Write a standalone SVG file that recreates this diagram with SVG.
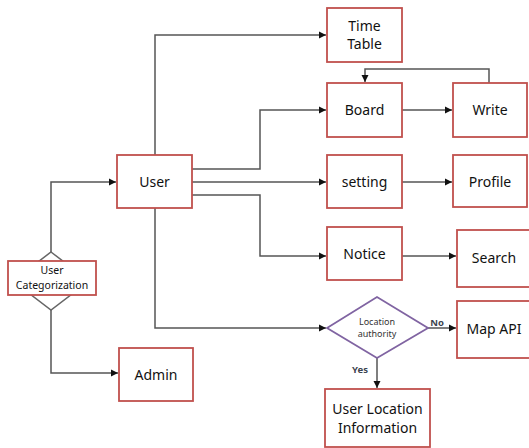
<svg xmlns="http://www.w3.org/2000/svg" width="529" height="448" viewBox="0 0 529 448">
<defs>
<style>
.box{fill:#fff;stroke:#c0504d;stroke-width:1.8}
.t{font-family:"Noto Sans","Open Sans",sans-serif;font-size:14px;fill:#111;text-anchor:middle}
.ts{font-family:"Noto Sans","Open Sans",sans-serif;font-size:10.5px;fill:#111;text-anchor:middle}
.tx{font-family:"Noto Sans","Open Sans",sans-serif;font-size:9px;fill:#333;text-anchor:middle}
.lbl{font-family:"Noto Sans","Open Sans",sans-serif;font-size:9.5px;font-weight:bold;fill:#3c4450;text-anchor:middle}
.c{fill:none;stroke:#555;stroke-width:1.5}
</style>
<marker id="a" markerWidth="8" markerHeight="8" refX="7" refY="4" orient="auto" markerUnits="userSpaceOnUse">
<path d="M0,0.5 L7,4 L0,7.5 Z" fill="#111"/>
</marker>
</defs>
<g id="connectors">
<path class="c" d="M51,252 V182 H116" marker-end="url(#a)"/>
<path class="c" d="M51,310 V373 H118" marker-end="url(#a)"/>
<path class="c" d="M155,155 V35 H326" marker-end="url(#a)"/>
<path class="c" d="M192,169 H260 V110 H326" marker-end="url(#a)"/>
<path class="c" d="M192,182 H326" marker-end="url(#a)"/>
<path class="c" d="M192,195 H260 V256 H326" marker-end="url(#a)"/>
<path class="c" d="M155,208 V328 H326" marker-end="url(#a)"/>
<path class="c" d="M402,110 H452" marker-end="url(#a)"/>
<path class="c" d="M489,83 V69 H365 V82" marker-end="url(#a)"/>
<path class="c" d="M402,182 H452" marker-end="url(#a)"/>
<path class="c" d="M402,256 H456" marker-end="url(#a)"/>
<path class="c" d="M428,328 H456" marker-end="url(#a)"/>
<path class="c" d="M377,358 V388" marker-end="url(#a)"/>
<text class="lbl" x="437" y="326">No</text>
<text class="lbl" x="360" y="373">Yes</text>
</g>
<g id="user-categorization">
<path d="M51,252 L89,281 L51,310 L13,281 Z" fill="#fff" stroke="#666" stroke-width="1.5"/>
<rect class="box" x="8" y="261" width="88" height="34"/>
<text class="ts" x="52" y="274">User</text>
<text class="ts" x="52" y="289">Categorization</text>
</g>
<g id="user"><rect class="box" x="117" y="155" width="75" height="53"/><text class="t" x="154.5" y="187">User</text></g>
<g id="admin"><rect class="box" x="119" y="348" width="74" height="53"/><text class="t" x="156" y="380">Admin</text></g>
<g id="timetable"><rect class="box" x="327" y="8" width="75" height="54"/><text class="t" x="364.5" y="31">Time</text><text class="t" x="364.5" y="49">Table</text></g>
<g id="board"><rect class="box" x="327" y="83" width="75" height="54"/><text class="t" x="364.5" y="115">Board</text></g>
<g id="write"><rect class="box" x="453" y="83" width="74" height="54"/><text class="t" x="490" y="115">Write</text></g>
<g id="setting"><rect class="box" x="327" y="155" width="75" height="53"/><text class="t" x="364.5" y="187">setting</text></g>
<g id="profile"><rect class="box" x="453" y="155" width="74" height="52"/><text class="t" x="490" y="187">Profile</text></g>
<g id="notice"><rect class="box" x="327" y="227" width="75" height="53"/><text class="t" x="364.5" y="259">Notice</text></g>
<g id="search"><rect class="box" x="457" y="230" width="76" height="57"/><text class="t" x="494" y="263">Search</text></g>
<g id="location-authority"><path d="M327,328 L377,297 L428,328 L377,358 Z" fill="#fff" stroke="#8064a2" stroke-width="1.8"/><text class="tx" x="377" y="325">Location</text><text class="tx" x="377" y="337">authority</text></g>
<g id="mapapi"><rect class="box" x="457" y="301" width="76" height="57"/><text class="t" x="494" y="334">Map API</text></g>
<g id="userlocation"><rect class="box" x="325" y="389" width="105" height="58"/><text class="t" x="377.5" y="414">User Location</text><text class="t" x="377.5" y="433">Information</text></g>
</svg>
